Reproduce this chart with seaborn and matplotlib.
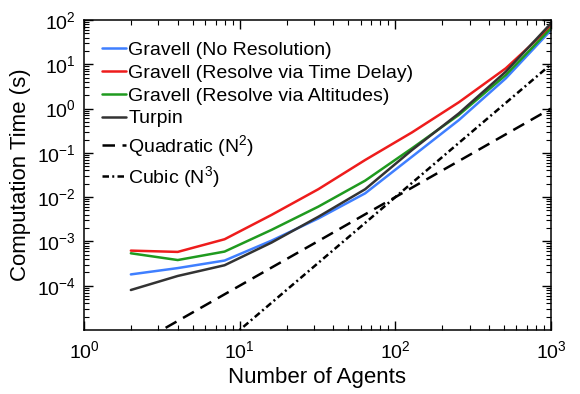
import matplotlib
matplotlib.use("Agg")
import matplotlib.pyplot as plt
import seaborn as sns
import pandas as pd
import numpy as np
from matplotlib.ticker import LogLocator, NullFormatter

# ---- data ----
agents = [2, 4, 8, 16, 32, 64, 128, 256, 512, 1000]
gravell_none = [1.8e-4, 2.5e-4, 3.7e-4, 1.04e-3, 3.3e-3, 1.22e-2, 8.2e-2, 0.55, 4.8, 59]
gravell_delay = [6.2e-4, 5.8e-4, 1.12e-3, 3.96e-3, 1.51e-2, 6.9e-2, 0.29, 1.39, 8.1, 71]
gravell_alt = [5.4e-4, 3.8e-4, 5.9e-4, 1.82e-3, 6.1e-3, 2.36e-2, 0.127, 0.72, 5.7, 65]
turpin = [8.0e-5, 1.66e-4, 2.9e-4, 9.4e-4, 3.6e-3, 1.51e-2, 0.116, 0.78, 6.8, 84]
quadratic = [4e-6, 1.6e-5, 6.4e-5, 2.56e-4, 1.02e-3, 4.1e-3, 1.64e-2, 6.55e-2, 0.262, 1.0]
cubic = [8e-8, 6.4e-7, 5.12e-6, 4.1e-5, 3.28e-4, 2.62e-3, 2.1e-2, 0.168, 1.34, 10.0]

labels = ["Gravell (No Resolution)",
          "Gravell (Resolve via Time Delay)",
          "Gravell (Resolve via Altitudes)",
          "Turpin",
          r"Quadratic (N$^{2}$)",
          r"Cubic (N$^{3}$)"]
series = [gravell_none, gravell_delay, gravell_alt, turpin, quadratic, cubic]
colors = ["#3f7fff", "#ee1c1c", "#1f9a1f", "#333333", "#000000", "#000000"]
dash_styles = ["", "", "", "", (5, 3), (2.6, 1.3, 0.8, 1.3)]

rows = []
for lab, vals in zip(labels, series):
    for n, v in zip(agents, vals):
        rows.append({"N": n, "time": v, "method": lab})
df = pd.DataFrame(rows)

sns.set_style("ticks")
plt.rcParams["font.family"] = ["Liberation Sans", "DejaVu Sans"]
plt.rcParams["mathtext.default"] = "regular"
for k in ["text.color", "axes.labelcolor", "xtick.color", "ytick.color", "axes.edgecolor"]:
    plt.rcParams[k] = "black"

fig = plt.figure(figsize=(5.8, 3.94), dpi=100)
ax = fig.add_axes([84 / 580, 1 - 330 / 394, (551 - 84) / 580, (330 - 20) / 394])

sns.lineplot(data=df, x="N", y="time", hue="method", style="method",
             hue_order=labels, style_order=labels,
             palette=dict(zip(labels, colors)),
             dashes=dict(zip(labels, dash_styles)),
             linewidth=1.8, ax=ax, legend=True)

ax.set_xscale("log")
ax.set_yscale("log")
ax.set_xlim(1, 1000)
ax.set_ylim(1e-5, 1e2)
ax.set_xticks([1, 10, 100, 1000])
ax.set_yticks([1e-4, 1e-3, 1e-2, 1e-1, 1, 10, 100])
ax.xaxis.set_minor_locator(LogLocator(base=10, subs=np.arange(2, 10), numticks=20))
ax.yaxis.set_minor_locator(LogLocator(base=10, subs=np.arange(2, 10), numticks=20))
ax.xaxis.set_minor_formatter(NullFormatter())
ax.yaxis.set_minor_formatter(NullFormatter())

ax.tick_params(which="both", direction="in", top=True, right=True, labelsize=14,
               color="black", labelcolor="black")
ax.tick_params(which="major", length=6.5, width=1.0)
ax.tick_params(which="minor", length=3.6, width=0.8)
ax.tick_params(axis="x", pad=7)
ax.tick_params(axis="y", pad=6)
for sp in ax.spines.values():
    sp.set_visible(True)
    sp.set_linewidth(1.1)
    sp.set_color("black")

ax.set_xlabel("Number of Agents", fontsize=16, labelpad=4)
ax.set_ylabel("Computation Time (s)", fontsize=16, labelpad=4)

leg = ax.legend(loc="upper left", bbox_to_anchor=(0.0, 0.988), frameon=False, fontsize=14,
                handlelength=1.25, handletextpad=0.12, labelspacing=0.27,
                borderaxespad=0.5, borderpad=0.4)
for line in leg.get_lines():
    line.set_linewidth(1.8)

fig.savefig("out.png", dpi=100)
